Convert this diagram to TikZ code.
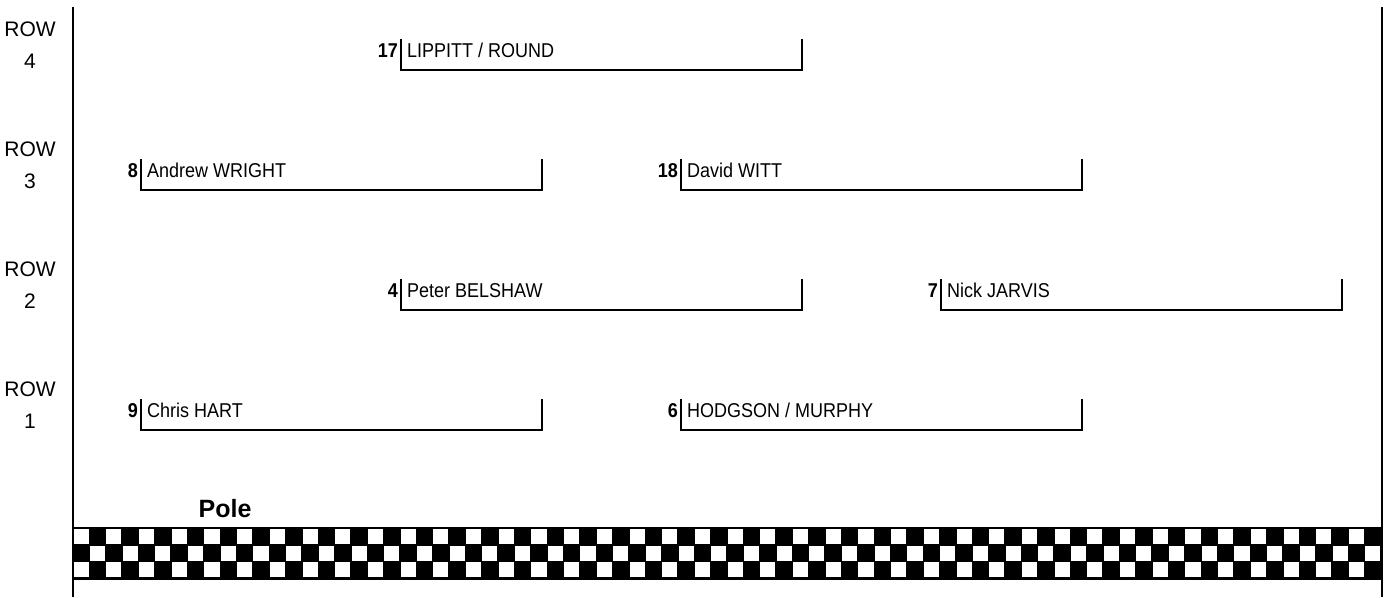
\documentclass[tikz,border=0pt]{standalone}
\usepackage{fontspec}
\setmainfont{Liberation Sans}
\newfontfamily\narrowfont[FakeStretch=0.9]{Liberation Sans}

\begin{document}
\begin{tikzpicture}[x=1pt,y=-1pt,
    rowlabel/.style={font=\fontsize{21}{24}\selectfont, anchor=base, inner sep=0pt},
    drivername/.style={font=\narrowfont\fontsize{20}{22}\selectfont, anchor=base west, inner sep=0pt},
    carnumber/.style={font=\narrowfont\bfseries\fontsize{20}{22}\selectfont, anchor=base east, inner sep=0pt},
    slotline/.style={line width=1.5pt}]
    \useasboundingbox (0,0) rectangle (1384,597);

    % Side lines
    \draw[line width=2pt] (73,7) -- (73,597);
    \draw[line width=1.5pt] (1382,7) -- (1382,597);

    % Row labels
    \foreach \r/\yb in {4/70,3/190,2/310,1/430} {
        \node[rowlabel] (row\r) at (30,\yb-34) {ROW};
        \node[rowlabel] (rownum\r) at (30,\yb-2) {\r};
    }

    % Grid slots
    \foreach \num/\who/\xl/\yb in {17/{LIPPITT / ROUND}/401/70, 8/{Andrew WRIGHT}/141/190,
        18/{David WITT}/681/190, 4/{Peter BELSHAW}/401/310, 7/{Nick JARVIS}/941/310,
        9/{Chris HART}/141/430, 6/{HODGSON / MURPHY}/681/430} {
        \node[carnumber] (num\num) at (\xl-3,\yb-13) {\num};
        \node[drivername] (car\num) at (\xl+6,\yb-13) {\who};
        \draw[slotline] (\xl,\yb-31) -- (\xl,\yb) -- (\xl+401,\yb) -- (\xl+401,\yb-31);
    }

    % Pole and chequered line
    \node[font=\bfseries\fontsize{25}{28}\selectfont, anchor=base, inner sep=0pt] (pole) at (225,517) {Pole};
    \foreach \t in {73,727} {
        \begin{scope}
            \clip (\t,527) rectangle (\t+655,579.5);
            \fill[black] (\t,527) rectangle (\t+655,579.5);
            \foreach \i in {0,...,39} \foreach \j in {0,1,2} {
                \pgfmathparse{int(mod(\i+\j,2))}
                \ifnum\pgfmathresult=0
                    \fill[white] (\t+\i*16.35+0.6,529.3+\j*16.5) rectangle +(15.1,15);
                \fi
            }
        \end{scope}
    }
\end{tikzpicture}
\end{document}
